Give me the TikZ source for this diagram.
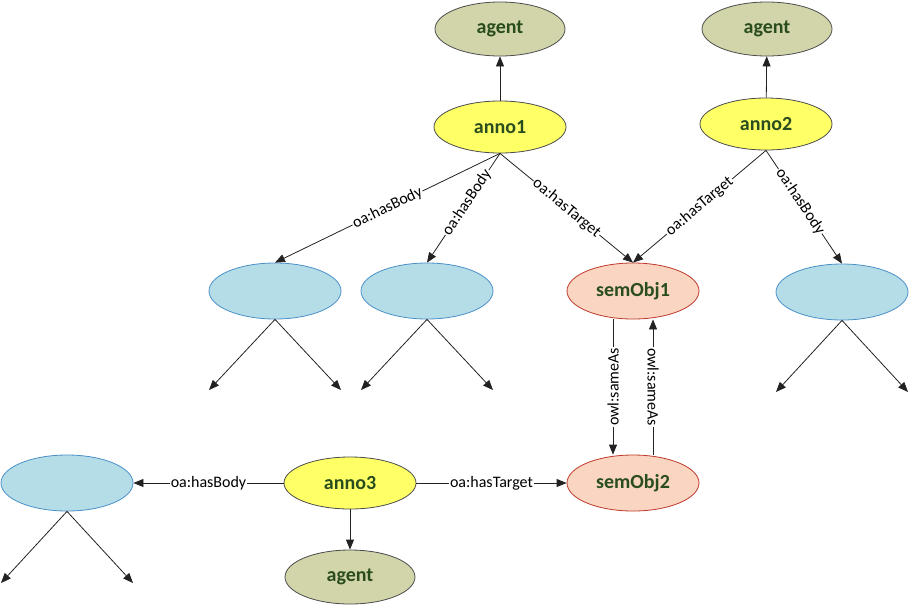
\documentclass[tikz,border=0pt]{standalone}
\usepackage{fontspec}
\setmainfont{Carlito}
\usetikzlibrary{shapes.geometric,arrows.meta}

\definecolor{agentfill}{HTML}{D2D4AA}
\definecolor{annofill}{HTML}{FFFF66}
\definecolor{bodyfill}{HTML}{B5DDE8}
\definecolor{bodyline}{HTML}{4A90C8}
\definecolor{objfill}{HTML}{F9D5C2}
\definecolor{objline}{HTML}{C0392B}
\definecolor{nodetext}{HTML}{2A4D1E}
\definecolor{edgeline}{HTML}{222222}

\tikzset{
  ell/.style={ellipse, minimum width=132pt, minimum height=56pt, inner sep=0pt,
    line width=0.8pt, font=\fontsize{20}{22}\selectfont\bfseries, text=nodetext},
  agentnode/.style={ell, draw=black!70, fill=agentfill, minimum width=130pt, minimum height=54pt},
  annonode/.style={ell, draw=black!70, fill=annofill, minimum height=52pt},
  bodynode/.style={ell, draw=bodyline, fill=bodyfill},
  objnode/.style={ell, draw=objline, fill=objfill},
  link/.style={draw=edgeline, line width=0.8pt, -{Triangle[length=10pt,width=8pt]}},
  lab/.style={font=\fontsize{16}{18}\selectfont, fill=white, inner sep=1pt, text=black},
}

\begin{document}
\begin{tikzpicture}[x=1pt,y=-1pt]
  \useasboundingbox (0,0) rectangle (909,606);

  % annotations and their agents
  \node[agentnode] (agent1) at (500,29) {agent};
  \node[annonode]  (anno1)  at (500,127) {anno1};
  \node[agentnode] (agent2) at (767,29) {agent};
  \node[annonode]  (anno2)  at (766,124) {anno2};
  \node[annonode]  (anno3)  at (350,483) {anno3};
  \node[agentnode] (agent3) at (350,577) {agent};

  % bodies and semantic objects
  \node[bodynode] (body1) at (275,291) {};
  \node[bodynode] (body2) at (427,291) {};
  \node[objnode]  (sem1)  at (633,291) {semObj1};
  \node[bodynode] (body4) at (842,292) {};
  \node[objnode]  (sem2)  at (633,483) {semObj2};
  \node[bodynode] (body5) at (67,483) {};

  % open ends below the bodies
  \coordinate (b1l) at (209,390);  \coordinate (b1r) at (341,390);
  \coordinate (b2l) at (361,390);  \coordinate (b2r) at (493,390);
  \coordinate (b4l) at (776,392);  \coordinate (b4r) at (908,392);
  \coordinate (b5l) at (1,583);    \coordinate (b5r) at (133,583);

  % creator links
  \draw[link] (anno1) -- (agent1);
  \draw[link] (anno2) -- (agent2);
  \draw[link] (anno3) -- (agent3);

  % body and target links
  \draw[link] (anno1.south) -- node[lab, sloped] {oa:hasBody} (body1.north);
  \draw[link] (anno1.south) -- node[lab, sloped, pos=0.45] {oa:hasBody} (body2.north);
  \draw[link] (anno1.south) -- node[lab, sloped] {oa:hasTarget} (sem1.north);
  \draw[link] (anno2.south) -- node[lab, sloped] {oa:hasTarget} (sem1.north);
  \draw[link] (anno2.south) -- node[lab, sloped, pos=0.45] {oa:hasBody} (body4.north);
  \draw[link] (anno3.west) -- node[lab] {oa:hasBody} (body5.east);
  \draw[link] (anno3.east) -- node[lab] {oa:hasTarget} (sem2.west);

  % identity links
  \draw[link] ([xshift=-20pt]sem1.south) -- node[lab, rotate=90] {owl:sameAs} ([xshift=-20pt]sem2.north);
  \draw[link] ([xshift=20pt]sem2.north) -- node[lab, rotate=-90] {owl:sameAs} ([xshift=20pt]sem1.south);

  % body fan-out
  \foreach \b/\l/\r in {body1/b1l/b1r, body2/b2l/b2r, body4/b4l/b4r, body5/b5l/b5r} {
    \draw[link] (\b.south) -- (\l);
    \draw[link] (\b.south) -- (\r);
  }
\end{tikzpicture}
\end{document}
